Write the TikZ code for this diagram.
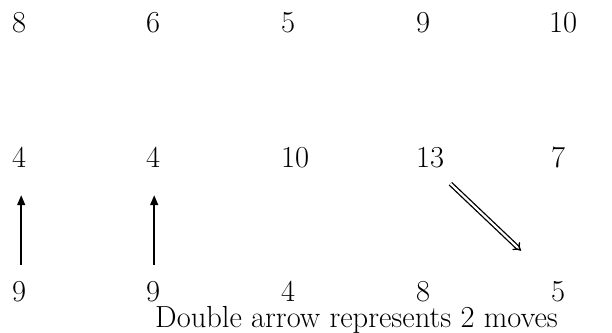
\documentclass[tikz,border=0pt]{standalone}
\usetikzlibrary{arrows.meta}
\begin{document}
\begin{tikzpicture}[x=1pt,y=-1pt,
  num/.style={anchor=base west,inner sep=0pt,font=\fontsize{30.5}{36}\selectfont},
  uparrow/.style={line width=1.6pt,-{Triangle[length=10pt,width=8pt]}},
  dblarrow/.style={double,double distance=2.2pt,line width=1.3pt,-{Implies}}]
\useasboundingbox (0,0) rectangle (612,332);
% row 1
\node[num] (a1) at (12,32) {8};
\node[num] (a2) at (146,32) {6};
\node[num] (a3) at (281,32) {5};
\node[num] (a4) at (416,32) {9};
\node[num] (a5) at (549,32) {10};
% row 2
\node[num] (b1) at (12,167) {4};
\node[num] (b2) at (146,167) {4};
\node[num] (b3) at (281,167) {10};
\node[num] (b4) at (416,167) {13};
\node[num] (b5) at (551,167) {7};
% row 3
\node[num] (c1) at (12,301) {9};
\node[num] (c2) at (146,301) {9};
\node[num] (c3) at (281,301) {4};
\node[num] (c4) at (416,301) {8};
\node[num] (c5) at (551,301) {5};
% caption
\node[num] (cap) at (155,327) {Double arrow represents 2 moves};
% arrows
\draw[uparrow] ([shift={(2,-16)}]c1.north) -- ([shift={(2,28)}]b1.south);
\draw[uparrow] ([shift={(1,-16)}]c2.north) -- ([shift={(1,28)}]b2.south);
\draw[dblarrow] ([shift={(6,16)}]b4.south east) -- ([shift={(-30,-30)}]c5.north west);
\end{tikzpicture}
\end{document}
